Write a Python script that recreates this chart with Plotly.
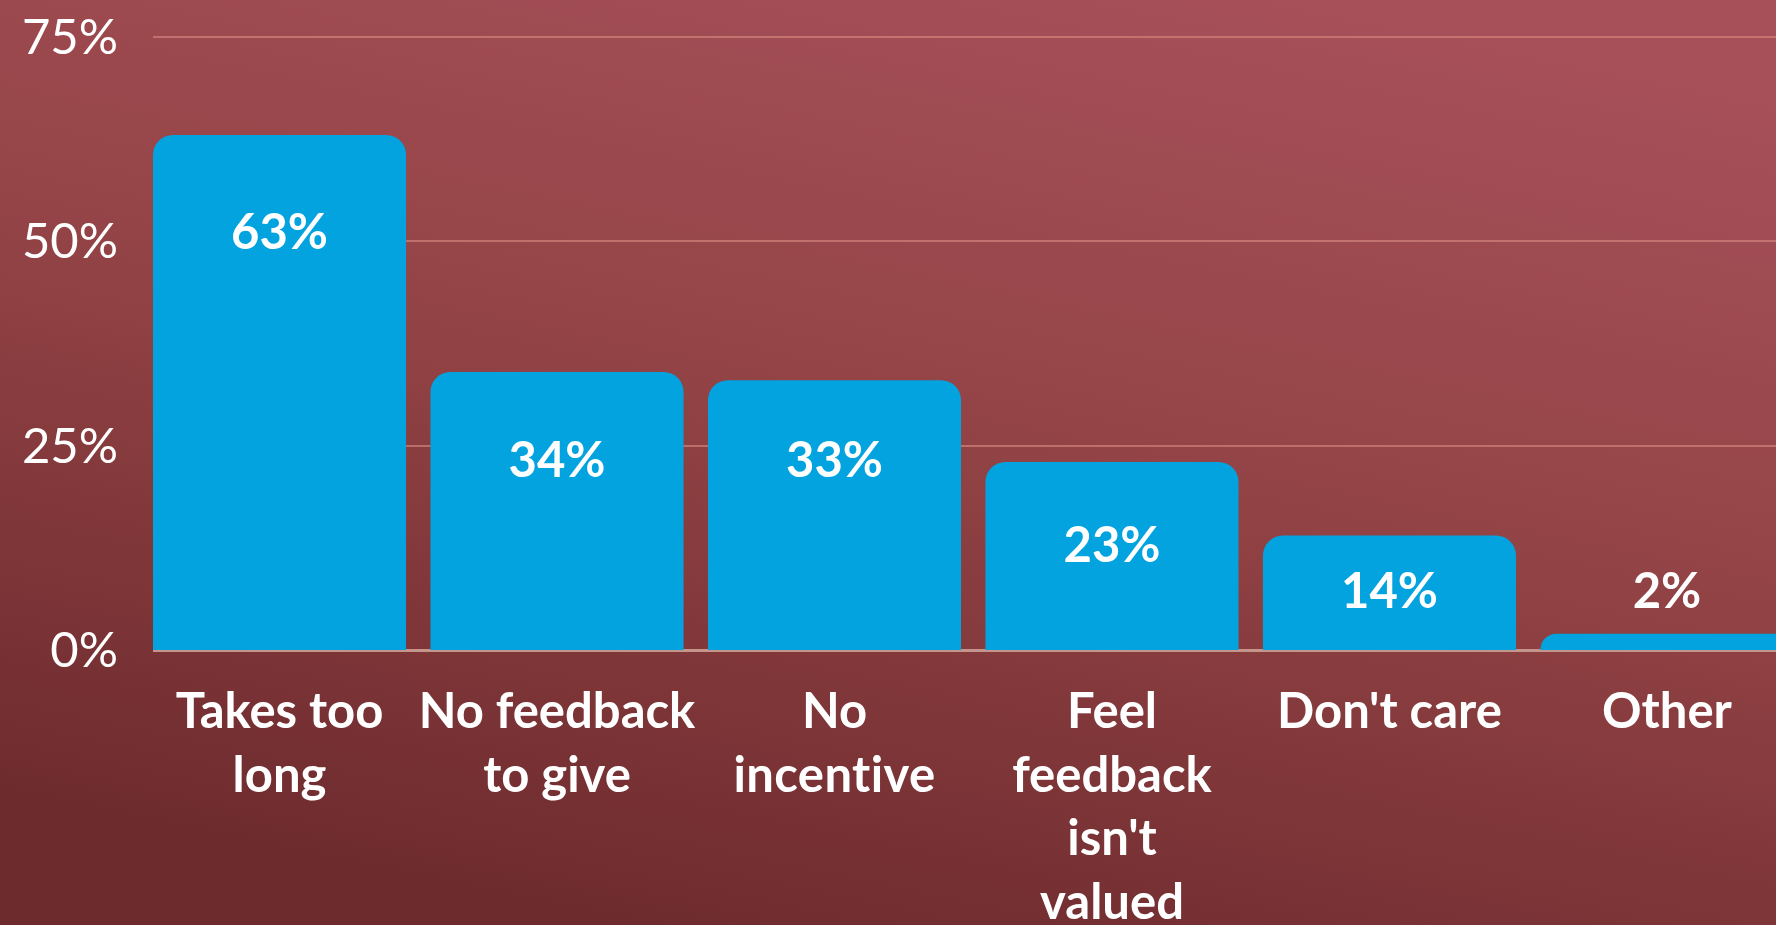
import base64
import plotly.graph_objects as go

# Survey: reasons for not giving feedback
# (a tiny letter-spacing keeps "ti" from being drawn as a ligature)
categories = ["Takes too<br>long", "No feedback<br>to give",
              "No<br><span style='letter-spacing:0.4px'>incentive</span>",
              "Feel<br>feedback<br>isn't<br>valued", "Don't care", "Other"]
values = [63, 34, 33, 23, 14, 2]
y_ticks = [0, 25, 50, 75]
y_tick_labels = ["0%", "25%", "50%", "75%"]

# Vertical anchor (data units) for each value label
label_y = [50.5, 22.7, 22.7, 12.3, 6.6, 6.6]

W, H = 1776, 925
ML, MR, MT, MB = 153, 0, 0, 275
PW, PH = W - ML - MR, H - MT - MB

BAR = "#03a3e0"
FONT = "Lato"

# Background gradient (dark maroon at the bottom-left, lighter rose at the top-right)
svg = f"""<svg xmlns='http://www.w3.org/2000/svg' width='{W}' height='{H}'>
<defs>
<linearGradient id='g' x1='0.75' y1='0' x2='0.35' y2='1'>
<stop offset='0' stop-color='#a7505a'/>
<stop offset='0.45' stop-color='#944446'/>
<stop offset='1' stop-color='#6e2b2e'/>
</linearGradient>
</defs>
<rect width='{W}' height='{H}' fill='url(#g)'/>
</svg>"""
bg_src = "data:image/svg+xml;base64," + base64.b64encode(svg.encode()).decode()

fig = go.Figure()
fig.add_trace(go.Bar(
    x=list(range(len(categories))),
    y=values,
    width=0.912,
    marker=dict(color=BAR, cornerradius=20, line=dict(width=0)),
    hoverinfo="skip",
))
fig.add_trace(go.Scatter(
    x=list(range(len(categories))),
    y=label_y,
    mode="text",
    text=[f"{v}%" for v in values],
    textfont=dict(family=FONT, size=49, color="white", weight="bold"),
    hoverinfo="skip",
))

fig.update_layout(
    width=W, height=H,
    margin=dict(l=ML, r=MR, t=MT, b=MB, autoexpand=False),
    paper_bgcolor="#8a3c3e",
    plot_bgcolor="rgba(0,0,0,0)",
    showlegend=False,
    images=[dict(
        source=bg_src, xref="paper", yref="paper",
        x=-ML / PW, y=1 + MT / PH, sizex=W / PW, sizey=H / PH,
        xanchor="left", yanchor="top", sizing="stretch", layer="below",
    )],
    xaxis=dict(
        range=[-0.456, 5.393],
        tickmode="array",
        tickvals=list(range(len(categories))),
        ticktext=categories,
        tickfont=dict(family=FONT, size=49, color="white", weight="bold"),
        showgrid=False, zeroline=False, showline=False,
        ticks="", ticklabelstandoff=28, automargin=False,
        fixedrange=True,
    ),
    yaxis=dict(
        range=[0, 79.5],
        tickmode="array",
        tickvals=y_ticks,
        ticktext=y_tick_labels,
        tickfont=dict(family=FONT, size=49, color="white"),
        showgrid=True, gridcolor="rgba(214,135,128,0.65)", gridwidth=2,
        zeroline=True, zerolinecolor="#c4968b", zerolinewidth=3,
        showline=False, ticks="", ticklabelstandoff=34, automargin=False,
        fixedrange=True,
    ),
)

fig.write_html("out.html")
